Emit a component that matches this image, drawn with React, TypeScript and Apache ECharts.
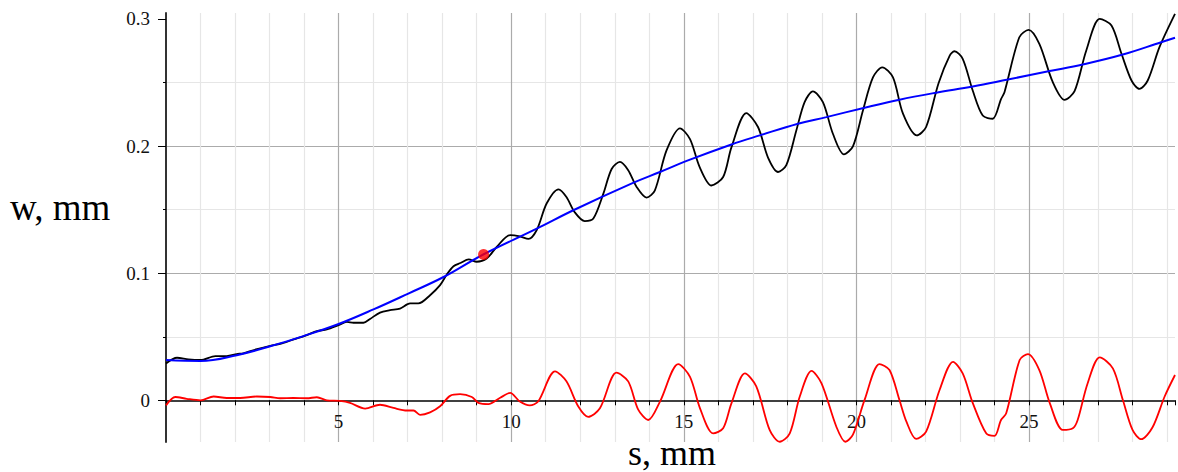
import React, { useEffect, useRef } from "react";
import * as echarts from "echarts";

// measured deflection w (black)
const measuredS = [0, 0.32, 0.65, 1.0, 1.43, 1.76, 2.05, 2.24, 2.64, 3.02, 3.36, 3.7, 4.08, 4.37, 4.66, 5.0, 5.24, 5.43, 5.72, 5.91, 6.2, 6.49, 6.78, 7.07, 7.31, 7.65, 7.94, 8.14, 8.33, 8.53, 8.77, 9.0, 9.29, 9.58, 9.97, 10.25, 10.5, 10.74, 11.03, 11.37, 11.6, 11.84, 12.13, 12.38, 12.67, 12.91, 13.15, 13.39, 13.63, 13.92, 14.16, 14.5, 14.89, 15.18, 15.46, 15.8, 16.14, 16.38, 16.81, 17.15, 17.44, 17.73, 17.97, 18.26, 18.5, 18.74, 19.03, 19.32, 19.64, 19.9, 20.19, 20.48, 20.75, 21.06, 21.35, 21.75, 22.02, 22.38, 22.7, 22.84, 23.08, 23.37, 23.66, 23.95, 24.19, 24.29, 24.72, 24.99, 25.3, 25.69, 26.03, 26.32, 26.66, 27.05, 27.39, 27.68, 27.97, 28.2, 28.44, 28.78, 29.23];
const measuredW = [0.029, 0.0335, 0.0322, 0.0317, 0.0348, 0.0348, 0.0364, 0.037, 0.0403, 0.0429, 0.0448, 0.0479, 0.0513, 0.0544, 0.0558, 0.0592, 0.0617, 0.061, 0.061, 0.064, 0.069, 0.0709, 0.0722, 0.0762, 0.0762, 0.0827, 0.0906, 0.0992, 0.1055, 0.108, 0.1108, 0.109, 0.1115, 0.1207, 0.13, 0.129, 0.127, 0.134, 0.155, 0.166, 0.16, 0.148, 0.141, 0.143, 0.1626, 0.182, 0.1875, 0.181, 0.168, 0.1595, 0.165, 0.1966, 0.214, 0.2055, 0.1835, 0.169, 0.1757, 0.199, 0.226, 0.215, 0.191, 0.1796, 0.185, 0.2123, 0.2346, 0.243, 0.2346, 0.2097, 0.1935, 0.1998, 0.228, 0.254, 0.262, 0.254, 0.2255, 0.2084, 0.215, 0.2495, 0.271, 0.2746, 0.2687, 0.2437, 0.224, 0.2215, 0.237, 0.2424, 0.2856, 0.2914, 0.2804, 0.2503, 0.2364, 0.2432, 0.2752, 0.3, 0.2948, 0.2726, 0.2516, 0.245, 0.2516, 0.2778, 0.304];

// smooth fitted trend (blue)
const trendS = [0, 1.0, 2.05, 3.02, 3.98, 5.0, 6.01, 7.02, 8.04, 9.19, 10.74, 11.8, 13.53, 14.31, 15.18, 16.38, 17.2, 18.31, 19.13, 20.24, 21.25, 22.31, 23.37, 24.39, 25.6, 26.56, 27.72, 28.83, 29.23];
const trendW = [0.0317, 0.031, 0.0355, 0.0425, 0.0505, 0.06, 0.0715, 0.084, 0.097, 0.1147, 0.135, 0.1495, 0.171, 0.1796, 0.1893, 0.2013, 0.2084, 0.2176, 0.2228, 0.2302, 0.2365, 0.242, 0.2469, 0.2524, 0.259, 0.2642, 0.272, 0.2817, 0.2852];

// residual (red)
const residS = [0, 0.27, 0.6, 1.0, 1.38, 1.76, 2.15, 2.63, 3.02, 3.31, 3.69, 4.08, 4.37, 4.66, 5.04, 5.33, 5.77, 6.2, 6.59, 6.98, 7.17, 7.36, 7.65, 7.94, 8.23, 8.52, 8.86, 9.05, 9.34, 9.68, 9.97, 10.25, 10.54, 10.78, 11.27, 11.6, 11.94, 12.23, 12.57, 13.05, 13.39, 13.68, 13.97, 14.31, 14.84, 15.18, 15.47, 15.85, 16.14, 16.38, 16.77, 17.1, 17.49, 17.78, 18.07, 18.36, 18.7, 18.99, 19.42, 19.68, 19.9, 20.24, 20.67, 20.96, 21.25, 21.45, 21.73, 22.02, 22.41, 22.8, 23.08, 23.37, 23.76, 24.0, 24.19, 24.34, 24.73, 24.97, 25.3, 25.6, 25.98, 26.27, 26.41, 26.7, 27.05, 27.43, 27.72, 28.0, 28.25, 28.58, 28.93, 29.23];
const residW = [-0.004, 0.0026, 0.0012, 0.0, 0.003, 0.0018, 0.0018, 0.003, 0.0026, 0.0016, 0.0018, 0.0016, 0.0024, 0.0, -0.0005, -0.002, -0.0065, -0.0035, -0.006, -0.008, -0.008, -0.0115, -0.0095, -0.0047, 0.0035, 0.0048, 0.0026, -0.002, -0.003, 0.002, 0.0058, -0.001, -0.004, -0.001, 0.0228, 0.0149, -0.0047, -0.013, -0.0063, 0.0217, 0.0149, -0.0073, -0.0155, -0.001, 0.0285, 0.0185, -0.0063, -0.026, -0.022, -0.0024, 0.0212, 0.011, -0.0235, -0.0326, -0.026, 0.003, 0.0232, 0.0134, -0.0208, -0.0326, -0.027, 0.0005, 0.0285, 0.0238, 0.0, -0.0168, -0.0304, -0.0247, 0.0081, 0.0303, 0.0212, -0.002, -0.026, -0.028, -0.0155, -0.0102, 0.0317, 0.0364, 0.0238, -0.002, -0.0233, -0.022, -0.0155, 0.0134, 0.0338, 0.0251, 0.0002, -0.0233, -0.0306, -0.0212, 0.003, 0.0199];

// highlighted point
const markS = [9.2];
const markW = [0.1147];

const yTickValues = [0, 0.1, 0.2, 0.3];
const xName = "s, mm";
const yName = "w, mm";

const zip = (a: number[], b: number[]) => a.map((v, i) => [v, b[i]]);

export default function App() {
  const ref = useRef<HTMLDivElement>(null);
  useEffect(() => {
    if (!ref.current) return;
    const chart = echarts.init(ref.current, undefined, { renderer: "svg" });
    const font = "'Liberation Serif', 'Times New Roman', serif";
    chart.setOption({
      animation: false,
      backgroundColor: "#ffffff",
      grid: { left: 166, right: 2, top: 13, bottom: 30, containLabel: false },
      xAxis: {
        type: "value",
        min: 0,
        max: 29.23,
        interval: 5,
        axisLine: { show: true, onZero: true, lineStyle: { color: "#000", width: 1.5 } },
        axisTick: { show: true, length: 5, lineStyle: { color: "#000", width: 1 } },
        minorTick: { show: true, splitNumber: 5, length: 5, lineStyle: { color: "#000", width: 1 } },
        axisLabel: {
          fontFamily: font,
          fontSize: 19,
          color: "#111",
          margin: -30,
          formatter: (v: number) => (v > 0 && Math.abs(v / 5 - Math.round(v / 5)) < 1e-6 ? String(v) : ""),
        },
        splitLine: { show: true, showMinLine: false, showMaxLine: false, lineStyle: { color: "#ababab", width: 1.2 } },
        minorSplitLine: { show: true, lineStyle: { color: "#e6e6e6", width: 1.2 } },
      },
      yAxis: {
        type: "value",
        min: -0.0328,
        max: 0.3047,
        splitNumber: 4,
        minInterval: 0.1,
        maxInterval: 0.1,
        axisLine: { show: true, onZero: true, lineStyle: { color: "#333", width: 2 } },
        axisTick: { show: true, length: 8, customValues: yTickValues, lineStyle: { color: "#000", width: 1 } },
        minorTick: { show: true, splitNumber: 2, length: 3, lineStyle: { color: "#000", width: 1 } },
        axisLabel: {
          fontFamily: font,
          fontSize: 19,
          color: "#111",
          margin: 16,
          customValues: yTickValues,
          formatter: (v: number) => {
            const k = v * 10;
            if (Math.abs(k - Math.round(k)) > 1e-6) return "";
            const r = Math.round(k);
            return r === 0 ? "0" : (r / 10).toFixed(1);
          },
        },
        splitLine: { show: true, showMinLine: false, showMaxLine: false, lineStyle: { color: "#ababab", width: 1.2 } },
        minorSplitLine: { show: true, lineStyle: { color: "#e6e6e6", width: 1.2 } },
      },
      graphic: [
        {
          type: "text",
          left: 10,
          top: 189,
          style: { text: yName, fontFamily: font, fontSize: 37, fill: "#000" },
        },
        {
          type: "text",
          x: 672,
          y: 453,
          style: { text: xName, fontFamily: font, fontSize: 36, fill: "#000", align: "center", verticalAlign: "middle" },
        },
      ],
      series: [
        {
          type: "line",
          data: zip(measuredS, measuredW),
          smooth: 0.3,
          showSymbol: false,
          lineStyle: { color: "#000", width: 1.8 },
          z: 3,
        },
        {
          type: "line",
          data: zip(trendS, trendW),
          smooth: 0.4,
          showSymbol: false,
          lineStyle: { color: "#0000ff", width: 2 },
          z: 4,
        },
        {
          type: "line",
          data: zip(residS, residW),
          smooth: 0.3,
          showSymbol: false,
          lineStyle: { color: "#ff0000", width: 1.8 },
          z: 4,
        },
        {
          type: "scatter",
          data: zip(markS, markW),
          symbol: "circle",
          symbolSize: 11,
          itemStyle: { color: "#ff0000" },
          z: 5,
        },
      ],
    });
    return () => chart.dispose();
  }, []);
  return (
    <div
      ref={ref}
      style={{ position: "fixed", left: 0, top: 0, width: 1178, height: 472 }}
    />
  );
}
